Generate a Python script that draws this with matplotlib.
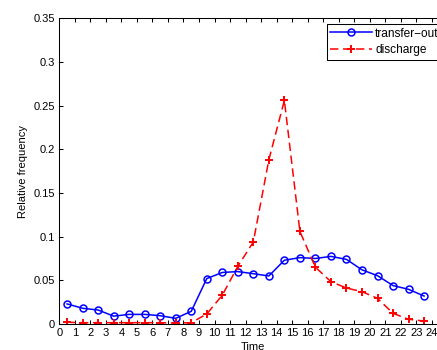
import matplotlib
matplotlib.use('Agg')
import matplotlib.pyplot as plt

plt.rcParams.update({
    'font.family': ['Liberation Sans', 'DejaVu Sans'],
    'font.size': 8,
    'axes.linewidth': 0.75,
})

# hourly bins, plotted at bin centres
hours = [h + 0.5 for h in range(24)]

transfer_out = [0.023, 0.018, 0.016, 0.009, 0.011, 0.011, 0.0095, 0.0065,
                0.0145, 0.052, 0.059, 0.060, 0.0576, 0.055, 0.073, 0.076,
                0.075, 0.0774, 0.074, 0.062, 0.0553, 0.044, 0.0397, 0.032]

discharge = [0.002, 0.0015, 0.0015, 0.0015, 0.0015, 0.0015, 0.0015, 0.001,
             0.0015, 0.0114, 0.033, 0.066, 0.094, 0.188, 0.256, 0.106,
             0.065, 0.0484, 0.0412, 0.037, 0.0294, 0.0122, 0.0054, 0.0034]

xticks = list(range(0, 26))
yticks = [0, 0.05, 0.1, 0.15, 0.2, 0.25, 0.3, 0.35]
ytick_labels = ['0', '0.05', '0.1', '0.15', '0.2', '0.25', '0.3', '0.35']

fig = plt.figure(figsize=(4.37, 3.5), dpi=100)
ax = fig.add_axes([0.1357, 0.0743, 0.888, 0.8734])

ax.plot(hours, transfer_out, color='blue', linestyle='-', linewidth=1.1,
        marker='o', markersize=5, markerfacecolor='none',
        markeredgewidth=1.1, label='transfer\u2212out')
ax.plot(hours, discharge, color='red', linestyle=(0, (5.5, 3)), linewidth=1.1,
        marker='+', markersize=6, markeredgewidth=1.4, label='discharge')

ax.set_xlim(0, 25)
ax.set_ylim(0, 0.35)
ax.set_xticks(xticks)
ax.set_yticks(yticks)
ax.set_yticklabels(ytick_labels)
ax.tick_params(direction='in', length=3, width=0.75, top=True, right=True,
               pad=3)
ax.set_xlabel('Time', labelpad=3)
ax.set_ylabel('Relative frequency', labelpad=4)

leg = ax.legend(loc='upper right', bbox_to_anchor=(0.987, 0.9813),
                borderaxespad=0, fancybox=False, framealpha=1,
                edgecolor='black', fontsize=8.6, handlelength=3.5,
                handletextpad=0.25, borderpad=0.3, labelspacing=0.4)
leg.get_frame().set_linewidth(0.75)

fig.savefig('out.png', dpi=100, facecolor='white')
